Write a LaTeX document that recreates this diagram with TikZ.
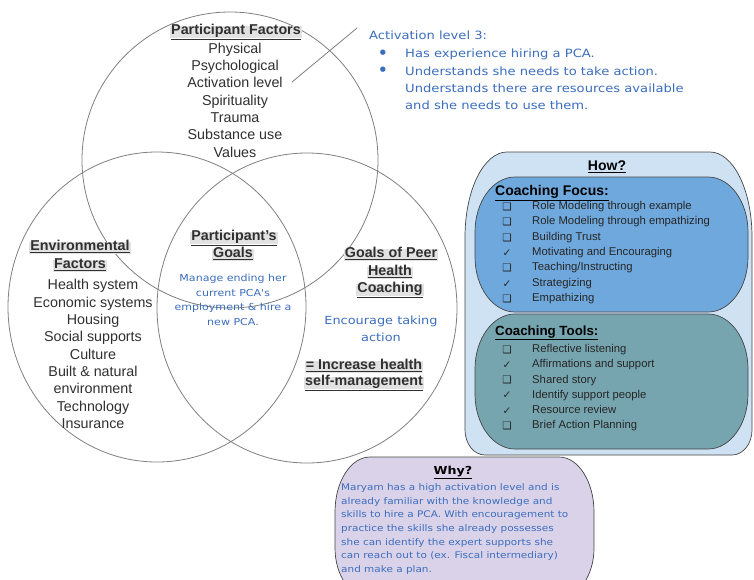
\documentclass[tikz,border=0pt]{standalone}
\usepackage{fontspec}
\setmainfont{Liberation Sans}
\newfontfamily\comic[FakeStretch=1.15]{DejaVu Sans}
\newfontfamily\symf{DejaVu Sans}
\definecolor{venn}{HTML}{808080}
\definecolor{txt}{HTML}{303030}
\definecolor{itemc}{HTML}{262626}
\definecolor{myblue}{HTML}{3C6EBE}
\definecolor{hlg}{HTML}{E2E2E2}
\definecolor{outerc}{HTML}{CFE2F3}
\definecolor{focusc}{HTML}{6FA8DC}
\definecolor{toolsc}{HTML}{76A5AF}
\definecolor{whyc}{HTML}{D9D2E9}
\definecolor{bord}{HTML}{454545}
\tikzset{
  ebox/.style n args={8}{insert path={(#1+#5,#2) -- (#3-#5,#2) arc[start angle=-90,end angle=0,x radius=#5,y radius=#6] -- (#3,#4-#8) arc[start angle=0,end angle=90,x radius=#7,y radius=#8] -- (#1+#7,#4) arc[start angle=90,end angle=180,x radius=#7,y radius=#8] -- (#1,#2+#6) arc[start angle=180,end angle=270,x radius=#5,y radius=#6] -- cycle}},
  vennline/.style={draw=venn, line width=0.8pt},
  vtxt/.style={text=txt, font=\fontsize{14.3}{17.3}\selectfont, align=center, inner sep=0pt},
  vttl/.style={text=txt, font=\bfseries\fontsize{14.3}{17.3}\selectfont, fill=hlg, inner xsep=1pt, inner ysep=0.5pt, text height=0.75em, text depth=0.28em},
  btxt/.style={text=myblue, align=center, inner sep=0pt},
  ptitle/.style={text=black, font=\bfseries\fontsize{14}{16}\selectfont, inner sep=0pt, text height=0.75em, text depth=0.28em},
  item/.style={anchor=west, text=itemc, font=\fontsize{11.3}{13}\selectfont, inner sep=0pt, text height=0.72em, text depth=0.2em},
  chk/.style={font=\symf\fontsize{10.5}{11}\selectfont, inner sep=0pt, text=itemc},
  panel/.style={draw=bord, line width=0.7pt},
  bul/.style={text=myblue, font=\symf\fontsize{7}{8}\selectfont, inner sep=0pt},
}
\begin{document}
\begin{tikzpicture}[x=1pt,y=-1pt]
\useasboundingbox (0,0) rectangle (754,579);
\clip (0,0) rectangle (754,579);
\fill[white] (0,0) rectangle (754,579);

% Venn ellipses
\draw[vennline] (230,160) ellipse [x radius=148, y radius=148];
\draw[vennline] (157,307) ellipse [x radius=149, y radius=155];
\draw[vennline] (307,308) ellipse [x radius=150, y radius=155];

% Participant factors
\node[vttl] (pft) at (236,32) {\underline{Participant Factors}};
\node[vtxt] (pfl) at (235,100) {Physical\\Psychological\\Activation level\\Spirituality\\Trauma\\Substance use\\Values};

% connector to activation note
\coordinate (la) at (292,82);
\coordinate (lb) at (357,28);
\draw[vennline] (la) -- (lb);

% Activation note
\node[anchor=west, text=myblue, font=\comic\fontsize{11.4}{17.3}\selectfont, inner sep=0pt] (act) at (369,35) {Activation level 3:};
\node[bul] (b1) at (383,53) {●};
\node[bul] (b2) at (383,70) {●};
\node[anchor=west, text=myblue, font=\comic\fontsize{11.4}{17.3}\selectfont, align=left, inner sep=0pt] (actl) at (405,79.5) {Has experience hiring a PCA.\\Understands she needs to take action.\\Understands there are resources available\\and she needs to use them.};

% Environmental factors
\node[vttl] (ef1) at (80,248) {\underline{Environmental}};
\node[vttl] (ef2) at (80,266) {\underline{Factors}};
\node[vtxt] (efl) at (93,354) {Health system\\Economic systems\\Housing\\Social supports\\Culture\\Built \& natural\\environment\\Technology\\Insurance};

% Participant's goals
\node[vttl] (pg1) at (234,238) {\underline{Participant's}};
\node[vttl] (pg2) at (233,255) {\underline{Goals}};
\node[btxt, font=\comic\fontsize{9.6}{14.7}\selectfont] (pgl) at (233,300) {Manage ending her\\current PCA's\\employment \& hire a\\new PCA.};

% Goals of peer health coaching
\node[vttl] (gc1) at (391,255) {\underline{Goals of Peer}};
\node[vttl] (gc2) at (390,273) {\underline{Health}};
\node[vttl] (gc3) at (390,290) {\underline{Coaching}};
\node[btxt, font=\comic\fontsize{11.2}{17}\selectfont] (gcl) at (381,328.5) {Encourage taking\\action};
\node[vttl] (inc1) at (364,367) {\underline{= Increase health}};
\node[vttl] (inc2) at (364,383) {\underline{self-management}};

% How panel
\path[panel, fill=outerc, ebox={465}{152}{752}{455}{42}{85}{20}{25}];
\path[panel, fill=focusc, ebox={475}{177}{748}{312}{40}{55}{40}{55}];
\path[panel, fill=toolsc, ebox={475}{314}{748}{449}{40}{55}{40}{55}];

\node[ptitle] (how) at (607,168) {\underline{How?}};
\node[ptitle, anchor=west] (cf) at (495,193) {\underline{Coaching Focus:}};
\node[chk] (c1) at (507,207) {❑};   \node[item] (t1) at (532,207) {Role Modeling through example};
\node[chk] (c2) at (507,222.3) {❑}; \node[item] (t2) at (532,222.3) {Role Modeling through empathizing};
\node[chk] (c3) at (507,237.7) {❑}; \node[item] (t3) at (532,237.7) {Building Trust};
\node[chk] (c4) at (507,253) {✓};   \node[item] (t4) at (532,253) {Motivating and Encouraging};
\node[chk] (c5) at (507,268.3) {❑}; \node[item] (t5) at (532,268.3) {Teaching/Instructing};
\node[chk] (c6) at (507,283.7) {✓}; \node[item] (t6) at (532,283.7) {Strategizing};
\node[chk] (c7) at (507,299) {❑};   \node[item] (t7) at (532,299) {Empathizing};

\node[ptitle, anchor=west, font=\bfseries\fontsize{13.3}{16}\selectfont] (ct) at (495,333) {\underline{Coaching Tools:}};
\node[chk] (d1) at (507,350) {❑};   \node[item] (u1) at (532,350) {Reflective listening};
\node[chk] (d2) at (507,365.2) {✓}; \node[item] (u2) at (532,365.2) {Affirmations and support};
\node[chk] (d3) at (507,380.4) {❑}; \node[item] (u3) at (532,380.4) {Shared story};
\node[chk] (d4) at (507,395.6) {✓}; \node[item] (u4) at (532,395.6) {Identify support people};
\node[chk] (d5) at (507,410.8) {✓}; \node[item] (u5) at (532,410.8) {Resource review};
\node[chk] (d6) at (507,426) {❑};   \node[item] (u6) at (532,426) {Brief Action Planning};

% Why panel
\path[panel, fill=whyc, ebox={335}{457}{594}{598}{35}{55}{35}{50}];
\node[text=black, font=\comic\bfseries\fontsize{11}{13}\selectfont, inner sep=0pt] (why) at (453,472) {\underline{Why?}};
\node[anchor=west, text=myblue, font=\comic\fontsize{9.1}{13.7}\selectfont, align=left, inner sep=0pt] (whyl) at (341,529) {Maryam has a high activation level and is\\already familiar with the knowledge and\\skills to hire a PCA. With encouragement to\\practice the skills she already possesses\\she can identify the expert supports she\\can reach out to (ex. Fiscal intermediary)\\and make a plan.};
\end{tikzpicture}
\end{document}
